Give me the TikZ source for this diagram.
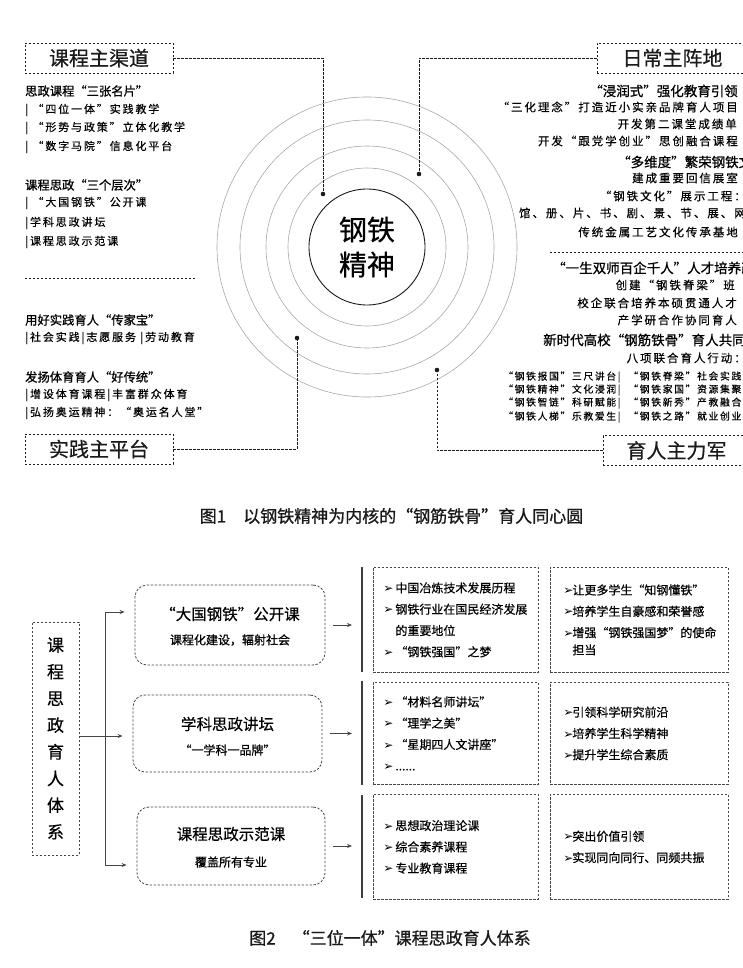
\documentclass[tikz,border=0pt]{standalone}
\usepackage{fontspec}
\usepackage{tikz}
\usetikzlibrary{arrows.meta, positioning}
\setmainfont{Noto Sans CJK SC}[FakeBold=0.5]
\newfontfamily\kai[LetterSpace=17, FakeBold=0.4]{Noto Sans CJK SC}
\newfontfamily\heavy[FakeBold=0.9]{Noto Sans CJK SC}
\newfontfamily\dingfont{DejaVu Sans}
\definecolor{InkBlack}{HTML}{1A1A1A}
\definecolor{RingGray}{HTML}{A8A8A8}
\definecolor{LineGray}{HTML}{454545}
\newcommand\fsz[1]{\fontsize{#1}{#1}\selectfont}
\newcommand\bul[1][12pt]{\makebox[#1][l]{\dingfont\fsz{12}➢}}

\tikzset{
  dashln/.style={InkBlack, line width=0.8pt, dash pattern=on 2.4pt off 1.6pt},
  headbox/.style={dashln, draw, minimum width=148pt, minimum height=30pt, inner sep=0pt, font=\fsz{20}},
  core/.style={circle, draw=InkBlack, line width=0.9pt, minimum size=116pt, inner sep=0pt,
    align=center, font=\fontsize{28}{35}\selectfont},
  lhead/.style={anchor=west, inner sep=0pt, font=\heavy\fsz{12.3}},
  lbody/.style={anchor=west, inner sep=0pt, font=\kai\fsz{11}},
  rhead/.style={anchor=east, inner sep=0pt, font=\heavy\fsz{13.5}},
  rbody/.style={anchor=east, inner sep=0pt, font=\kai\fsz{11.5}},
  rsmall/.style={anchor=west, inner sep=0pt, font=\kai\fsz{9.8}},
  caption/.style={inner sep=0pt, font=\heavy\fsz{17}, InkBlack},
  dash2/.style={dash pattern=on 2.4pt off 1.6pt, line width=0.8pt},
  sysbox/.style={draw=LineGray, dash2, minimum width=47pt, minimum height=233pt, inner sep=0pt,
    align=center, font=\fontsize{17}{26.7}\selectfont},
  midbox/.style={draw=LineGray, dash2, rounded corners=12pt, inner sep=0pt},
  ttl/.style={inner sep=0pt, font=\fsz{15.5}},
  subttl/.style={inner sep=0pt, font=\heavy\fsz{12}},
  itembox/.style={draw=LineGray, dash2, anchor=north west, align=left, inner ysep=0pt,
    font=\fontsize{12}{21.3}\selectfont},
  conn/.style={LineGray, line width=0.9pt},
  arr/.style={conn, -{Stealth[length=5pt, width=4pt]}},
  bar/.style={InkBlack!85, line width=1.3pt}
}

\begin{document}
\begin{tikzpicture}[x=1pt, y=-1pt]
  \useasboundingbox (0,0) rectangle (743,968);
  \clip (0,0) rectangle (743,968);

  % Concentric rings
  \foreach \r in {79,101,127,150}
    \draw[RingGray, line width=0.6pt] (367,247) circle (\r pt);
  \node[core] (core) at (367,247) {钢铁\\精神};

  % Dots on the rings
  \coordinate (dA) at (323,194);
  \coordinate (dB) at (419,174);
  \coordinate (dC) at (297,338);
  \coordinate (dD) at (437,370);
  \foreach \d in {dA,dB,dC,dD}
    \fill[InkBlack] (\d) circle (2.3pt);

  % Corner labels
  \node[headbox] (qudao) at (99,58) {课程主渠道};
  \node[headbox, minimum width=151pt] (zhendi) at (672.5,58) {日常主阵地};
  \node[headbox] (pingtai) at (99,449) {实践主平台};
  \node[headbox, minimum width=147pt] (zhuli) at (676.5,450.5) {育人主力军};
  \draw[dashln] (qudao.east) -| (dA);
  \draw[dashln] (zhendi.west) -| (dB);
  \draw[dashln] (pingtai.east) -| (dC);
  \draw[dashln] (zhuli.west) -| (dD);

  % Separators
  \draw[dashln] (25,278) -- (195,278);
  \draw[dashln] (550,252) -- (743,252);

  % Left text
  \foreach \yy/\txt [count=\i] in {91/思政课程“三张名片”, 185/课程思政“三个层次”,
      320/用好实践育人“传家宝”, 377/发扬体育育人“好传统”}
    \node[lhead] (lh\i) at (25,\yy) {\txt};
  \foreach \yy/\txt [count=\i] in {110/{| “四位一体”实践教学}, 128/{| “形势与政策”立体化教学},
      147/{| “数字马院”信息化平台}, 203/{| “大国钢铁”公开课}, 223/{|学科思政讲坛},
      242/{|课程思政示范课}, 338/{|社会实践|志愿服务 |劳动教育},
      395/{|增设体育课程|丰富群众体育}, 413/{|弘扬奥运精神：“奥运名人堂”}}
    \node[lbody] (lb\i) at (25,\yy) {\txt};

  % Right text
  \node[rhead] (rh1) at (738,91) {“浸润式”强化教育引领};
  \node[rhead, anchor=west] (rh2) at (617,162) {“多维度”繁荣钢铁文化};
  \node[rhead, anchor=west] (rh3) at (552,268) {“一生双师百企千人”人才培养改革};
  \node[rhead, anchor=west] (rh4) at (543,340) {新时代高校“钢筋铁骨”育人共同体};
  \foreach \yy/\xx/\txt [count=\i] in {107/738/“三化理念”打造近小实亲品牌育人项目,
      124/737/开发第二课堂成绩单, 141/738/开发“跟党学创业”思创融合课程,
      178/738/建成重要回信展室, 196/746/“钢铁文化”展示工程：,
      213/746/{馆、册、片、书、剧、景、节、展、网}, 232/738/传统金属工艺文化传承基地,
      285/735/创建“钢铁脊梁”班, 303/737/校企联合培养本硕贯通人才,
      320/737/产学研合作协同育人, 358/746/八项联合育人行动：}
    \node[rbody] (rb\i) at (\xx,\yy) {\txt};
  \foreach \yy/\txt [count=\i] in {377/{“钢铁报国”三尺讲台\,|\hspace{0.8em}“钢铁脊梁”社会实践},
      390/{“钢铁精神”文化浸润\,|\hspace{0.8em}“钢铁家国”资源集聚},
      403/{“钢铁智链”科研赋能\,|\hspace{0.8em}“钢铁新秀”产教融合},
      417/{“钢铁人梯”乐教爱生\,|\hspace{0.8em}“钢铁之路”就业创业}}
    \node[rsmall] (rs\i) at (503,\yy) {\txt};

  \node[caption] (cap1) at (391.5,516) {图1\quad 以钢铁精神为内核的“钢筋铁骨”育人同心圆};

  % Figure 2
  \node[sysbox] (sys) at (55.5,738.5) {课\\程\\思\\政\\育\\人\\体\\系};
  \node[midbox, minimum width=190pt, minimum height=80pt] (k1) at (230,625) {};
  \node[midbox, minimum width=189pt, minimum height=77pt] (k2) at (227.5,733.5) {};
  \node[midbox, minimum width=188pt, minimum height=78pt] (k3) at (231,846) {};
  \node[ttl] (k1t) at (230,614) {“大国钢铁”公开课};
  \node[subttl] (k1s) at (230,640) {课程化建设，辐射社会};
  \node[ttl] (k2t) at (227.5,724) {学科思政讲坛};
  \node[subttl] (k2s) at (227.5,750) {“一学科一品牌”};
  \node[ttl] (k3t) at (231,834) {课程思政示范课};
  \node[subttl] (k3s) at (231,862) {覆盖所有专业};

  % Fork
  \coordinate (ftop) at (105,612);
  \coordinate (fmid) at (105,736);
  \coordinate (fbot) at (105,865);
  \draw[conn] (ftop) -- (fbot);
  \draw[conn] (sys.east |- fmid) -- (fmid);
  \foreach \p/\k in {ftop/k1, fmid/k2, fbot/k3}
    \draw[arr, shorten >=10pt] (\p) -- (\p -| \k.west);

  % Bars
  \coordinate (b1t) at (362,567); \coordinate (b1b) at (362,672);
  \coordinate (b2t) at (362,681); \coordinate (b2b) at (362,785);
  \coordinate (b3t) at (362,795); \coordinate (b3b) at (362,898);
  \foreach \b in {1,2,3} {
    \draw[bar] (b\b t) -- (b\b b);
    \draw[arr, shorten <=8pt, shorten >=10pt] (k\b.east) -- (k\b.east -| b\b t);
  }

  % Item boxes
  \node[itembox, text width=145pt, inner xsep=10pt, minimum height=105pt] (c1a) at (373,567)
    {\bul 中国冶炼技术发展历程\\ \bul 钢铁行业在国民经济发展\\ \hspace*{12pt}的重要地位\\ \bul “钢铁强国”之梦};
  \node[itembox, text width=145pt, inner xsep=10pt, minimum height=102pt] (c1b) at (373,682)
    {\bul “材料名师讲坛”\\ \bul “理学之美”\\ \bul “星期四人文讲座”\\ \bul ......};
  \node[itembox, text width=145pt, inner xsep=10pt, minimum height=105pt] (c1c) at (373,794)
    {\bul 思想政治理论课\\ \bul 综合素养课程\\ \bul 专业教育课程};
  \node[itembox, text width=152pt, inner xsep=13pt, minimum height=105pt] (c2a) at (550,567)
    {\bul[9pt]让更多学生“知钢懂铁”\\ \bul[9pt]培养学生自豪感和荣誉感\\ \bul[9pt]增强“钢铁强国梦”的使命\\[-4pt] \hspace*{9pt}担当};
  \node[itembox, text width=152pt, inner xsep=13pt, minimum height=102pt] (c2b) at (550,682)
    {\bul[9pt]引领科学研究前沿\\ \bul[9pt]培养学生科学精神\\ \bul[9pt]提升学生综合素质};
  \node[itembox, text width=152pt, inner xsep=13pt, minimum height=105pt] (c2c) at (550,794)
    {\bul[9pt]突出价值引领\\ \bul[9pt]实现同向同行、同频共振};

  \node[caption] (cap2) at (390,938) {图2\quad “三位一体”课程思政育人体系};
\end{tikzpicture}
\end{document}
